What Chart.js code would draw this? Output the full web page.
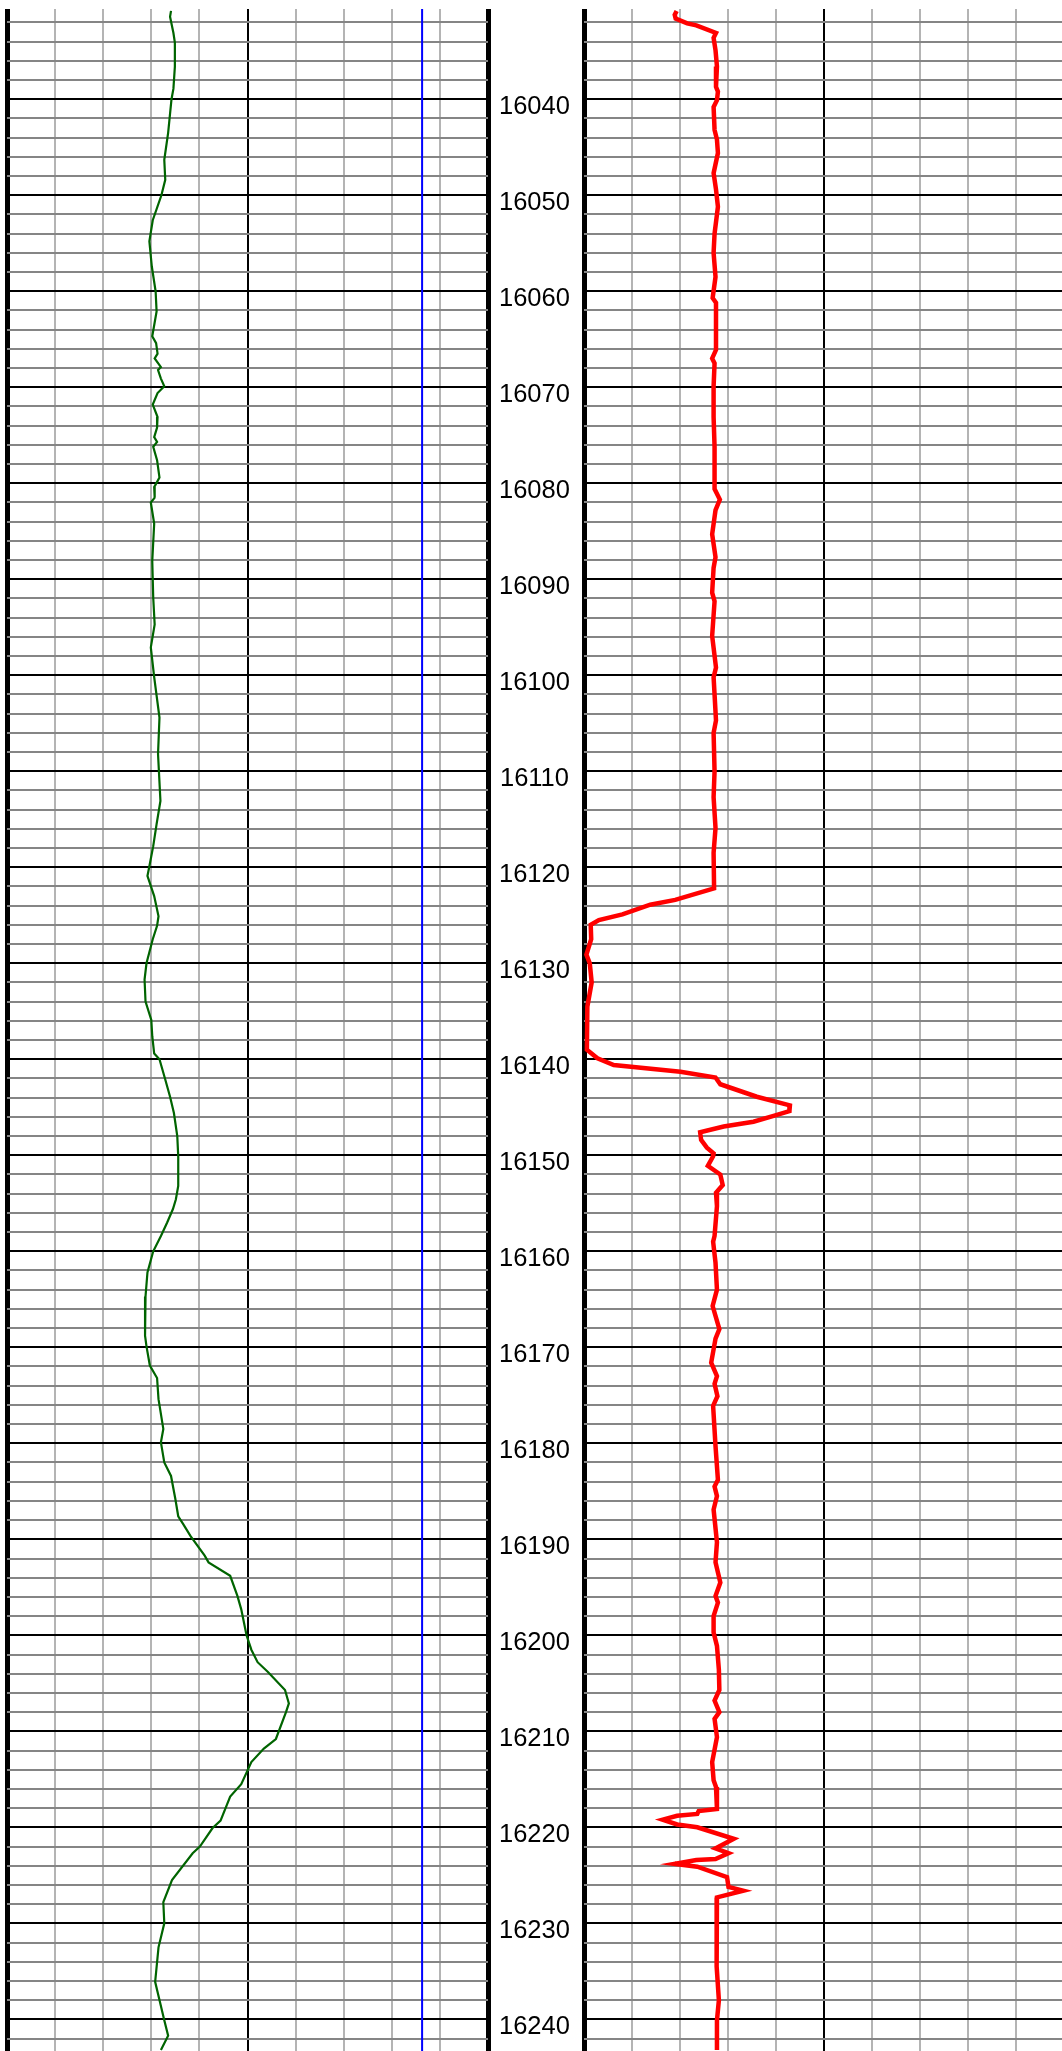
<!DOCTYPE html>
<html>
<head>
<meta charset="utf-8">
<title>Log tracks</title>
<script src="https://cdn.jsdelivr.net/npm/chart.js@4.4.1/dist/chart.umd.min.js"></script>
<style>
  body { margin: 0; background: #fff; overflow: hidden; }
  #wrap { position: relative; width: 1062px; height: 2051px; overflow: hidden; }
  #leftTrack { position: absolute; left: 0; top: 0; }
  #rightTrack { position: absolute; left: 580px; top: 0; }
</style>
</head>
<body>
<div id="wrap">
  <canvas id="leftTrack" width="584" height="2051"></canvas>
  <canvas id="rightTrack" width="484" height="2051"></canvas>
</div>
<script>
// depth window of the plot (ft)
const depthTop = 16030.6;
const depthBottom = 16243.3;
const depthLabels = [16040, 16050, 16060, 16070, 16080, 16090, 16100, 16110, 16120, 16130,
  16140, 16150, 16160, 16170, 16180, 16190, 16200, 16210, 16220, 16230, 16240];

// left track, green curve
const greenDepth = [16030.8, 16031.4, 16033.1, 16034.1, 16036.6, 16038.9, 16040.0, 16043.5, 16046.3, 16048.4,
  16050.0, 16052.6, 16054.8, 16057.4, 16060.0, 16062.1, 16064.7, 16065.4, 16066.5, 16067.0,
  16067.9, 16068.2, 16069.1, 16069.9, 16070.6, 16071.8, 16073.1, 16074.2, 16075.2, 16075.7,
  16076.2, 16077.6, 16079.4, 16080.4, 16081.5, 16082.0, 16084.2, 16088.1, 16091.9, 16094.7,
  16097.1, 16100.2, 16104.4, 16108.2, 16113.1, 16115.5, 16117.8, 16119.9, 16120.9, 16123.0,
  16125.1, 16126.1, 16127.5, 16130.0, 16131.7, 16134.0, 16135.9, 16137.6, 16139.4, 16140.0,
  16142.1, 16143.9, 16145.6, 16148.0, 16150.1, 16153.2, 16154.6, 16155.6, 16157.0, 16158.4,
  16160.0, 16162.2, 16164.7, 16168.8, 16169.9, 16171.9, 16173.2, 16175.4, 16178.5, 16179.9,
  16182.0, 16183.4, 16185.8, 16187.6, 16188.4, 16189.7, 16191.7, 16192.4, 16193.8, 16195.9,
  16197.3, 16200.0, 16201.5, 16202.8, 16203.8, 16205.7, 16207.1, 16208.0, 16210.8, 16211.8,
  16213.2, 16215.5, 16216.8, 16219.3, 16220.1, 16222.0, 16222.7, 16225.5, 16227.8, 16230.0,
  16232.5, 16236.1, 16238.0, 16240.1, 16241.7, 16243.2];
const greenValue = [34.1, 33.9, 34.6, 34.9, 34.9, 34.6, 34.2, 33.5, 32.7, 32.9,
  32.1, 30.3, 29.6, 30.1, 30.9, 31.1, 30.2, 31.0, 31.3, 30.7,
  32.0, 31.4, 32.0, 32.7, 31.3, 30.3, 31.3, 31.2, 30.6, 31.2,
  30.4, 31.2, 31.7, 30.6, 30.7, 29.9, 30.6, 30.2, 30.4, 30.7,
  29.9, 30.6, 31.7, 31.4, 31.9, 31.1, 30.4, 29.6, 29.2, 30.6,
  31.5, 31.2, 30.3, 29.0, 28.6, 28.8, 30.0, 30.2, 30.6, 31.7,
  32.9, 33.9, 34.7, 35.4, 35.6, 35.6, 35.1, 34.5, 33.3, 32.0,
  30.4, 29.2, 28.8, 28.7, 29.0, 29.7, 31.2, 31.5, 32.5, 32.0,
  32.7, 34.1, 35.0, 35.6, 36.6, 38.2, 41.1, 41.9, 46.4, 47.9,
  48.7, 49.8, 50.8, 52.1, 54.2, 57.8, 58.6, 58.0, 55.9, 53.4,
  50.8, 48.7, 46.4, 44.4, 42.7, 40.1, 38.6, 34.3, 32.5, 32.7,
  31.5, 30.8, 31.7, 32.7, 33.5, 32.0];
const blueCutoff = 86.3;

// right track, red curve
const redDepth = [16030.8, 16031.2, 16031.6, 16032.1, 16032.3, 16033.1, 16033.6, 16034.9, 16036.6, 16038.7,
  16039.2, 16040.1, 16040.8, 16043.2, 16044.2, 16045.6, 16047.7, 16049.4, 16051.2, 16054.0,
  16056.0, 16058.5, 16060.7, 16061.2, 16064.0, 16066.1, 16067.0, 16067.5, 16069.9, 16073.1,
  16076.2, 16078.7, 16080.6, 16081.7, 16082.8, 16085.3, 16087.7, 16088.8, 16091.4, 16092.3,
  16095.9, 16099.2, 16100.2, 16104.7, 16106.0, 16110.0, 16112.7, 16115.9, 16118.5, 16122.2,
  16123.4, 16123.9, 16124.9, 16125.5, 16126.0, 16127.5, 16129.1, 16130.0, 16132.0, 16134.5,
  16139.0, 16139.9, 16140.6, 16141.3, 16141.9, 16142.6, 16143.9, 16144.8, 16145.4, 16145.9,
  16146.5, 16147.0, 16147.6, 16148.4, 16149.2, 16149.8, 16150.1, 16151.1, 16152.0, 16153.1,
  16153.9, 16155.3, 16158.4, 16159.0, 16161.2, 16164.0, 16165.7, 16168.1, 16169.1, 16171.6,
  16173.0, 16173.8, 16175.1, 16176.1, 16180.3, 16183.8, 16184.5, 16185.5, 16186.9, 16190.3,
  16192.4, 16194.5, 16195.9, 16196.6, 16198.0, 16199.7, 16201.1, 16203.6, 16205.7, 16206.8,
  16208.0, 16208.7, 16210.6, 16213.2, 16215.1, 16215.8, 16218.1, 16218.3, 16218.6, 16218.8,
  16219.2, 16219.7, 16220.0, 16221.2, 16222.2, 16222.7, 16223.3, 16223.4, 16223.8, 16224.1,
  16225.2, 16226.2, 16226.6, 16227.3, 16228.4, 16231.8, 16234.5, 16238.0, 16240.1, 16243.2];
const redValue = [19.3, 18.9, 19.1, 21.5, 23.4, 27.5, 27.0, 27.4, 27.7, 27.5,
  27.9, 27.7, 27.0, 27.2, 27.7, 27.9, 27.0, 27.5, 27.9, 27.2,
  27.0, 27.4, 26.8, 27.5, 27.5, 27.5, 26.7, 27.2, 27.0, 27.0,
  27.2, 27.2, 27.2, 28.3, 27.4, 26.7, 27.4, 27.0, 26.7, 27.2,
  26.7, 27.5, 27.0, 27.5, 27.0, 27.2, 27.0, 27.4, 27.0, 27.1,
  19.0, 13.8, 8.0, 3.1, 1.4, 1.5, 0.5, 1.2, 1.6, 0.7,
  0.6, 2.8, 6.2, 20.1, 27.4, 28.4, 36.0, 42.9, 42.8, 39.5,
  35.3, 29.1, 24.2, 24.4, 25.6, 27.0, 26.9, 25.8, 28.4, 28.9,
  27.5, 27.7, 27.2, 26.9, 27.4, 27.7, 26.8, 28.2, 27.4, 26.5,
  27.7, 27.2, 27.8, 26.9, 27.4, 27.9, 27.2, 27.7, 27.0, 27.7,
  27.4, 28.4, 27.4, 27.9, 27.0, 27.0, 27.7, 28.1, 28.2, 27.2,
  28.2, 27.2, 27.7, 26.7, 27.0, 27.5, 27.7, 23.9, 23.6, 19.4,
  16.4, 19.4, 23.6, 31.2, 27.4, 30.1, 27.4, 23.4, 18.9, 23.6,
  29.8, 30.1, 33.2, 27.7, 27.5, 27.7, 27.7, 28.1, 27.7, 27.7];

function toPoints(depths, values) {
  return depths.map((d, i) => ({ x: values[i], y: d }));
}

function xGrid() {
  return {
    drawTicks: false,
    color: c => (c.tick.value === 0 || c.tick.value === 100 || c.tick.value === 50) ? '#000' : '#b4b4b4',
    lineWidth: c => (c.tick.value === 0 || c.tick.value === 100) ? 5 : 2
  };
}

function yGrid() {
  return {
    drawTicks: false,
    color: c => c.tick.value % 10 === 0 ? '#000' : '#858585',
    lineWidth: 2
  };
}

function trackScales(withLabels) {
  return {
    x: {
      type: 'linear', position: 'top', min: 0, max: 100,
      ticks: { stepSize: 10, display: false },
      grid: xGrid(),
      border: { display: false },
      afterFit: s => { s.height = 0; s.paddingLeft = 0; s.paddingRight = 0; }
    },
    y: {
      type: 'linear', reverse: true, min: depthTop, max: depthBottom,
      position: withLabels ? 'right' : 'left',
      ticks: {
        display: withLabels,
        stepSize: 2, autoSkip: false, includeBounds: false,
        crossAlign: 'center', padding: 11, labelOffset: 8,
        color: '#000',
        font: { family: '"Liberation Sans", Arial, sans-serif', size: 25.5 },
        callback: v => depthLabels.includes(v) ? String(v) : ''
      },
      grid: yGrid(),
      border: { display: false },
      // the labels must not push the plot area in
      afterFit: s => { s.width = withLabels ? 96 : 0; s.paddingTop = 0; s.paddingBottom = 0; }
    }
  };
}

const common = {
  responsive: false,
  animation: false,
  plugins: { legend: { display: false }, tooltip: { enabled: false } }
};

new Chart(document.getElementById('leftTrack'), {
  type: 'scatter',
  data: {
    datasets: [
      {
        data: toPoints([depthTop, depthBottom], [blueCutoff, blueCutoff]),
        showLine: true, borderColor: '#0000ff', borderWidth: 2, pointRadius: 0
      },
      {
        data: toPoints(greenDepth, greenValue),
        showLine: true, borderColor: '#006400', borderWidth: 2.2, pointRadius: 0
      }
    ]
  },
  options: Object.assign({}, common, {
    layout: { padding: { left: 7, top: 9, right: 0, bottom: 0 } },
    scales: trackScales(true)
  })
});

new Chart(document.getElementById('rightTrack'), {
  type: 'scatter',
  data: {
    datasets: [
      {
        data: toPoints(redDepth, redValue),
        showLine: true, borderColor: '#ff0000', borderWidth: 4.5, pointRadius: 0
      }
    ]
  },
  options: Object.assign({}, common, {
    layout: { padding: { left: 4, top: 9, right: 0, bottom: 0 } },
    scales: trackScales(false)
  })
});
</script>
</body>
</html>
